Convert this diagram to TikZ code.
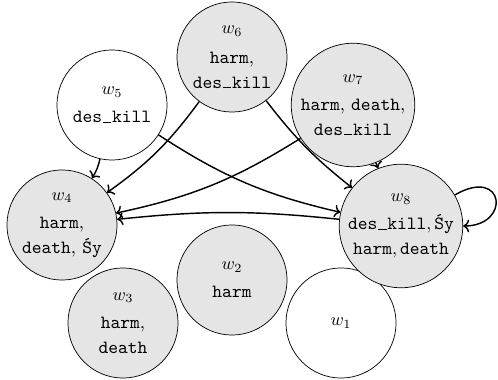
\documentclass[tikz,border=0pt]{standalone}
\usetikzlibrary{arrows.meta}
\newcommand\usc{\makebox[0.525em]{\rule{0.46em}{0.45pt}}}
\newcommand\dk{\texttt{des\usc kill}}
\begin{document}
\begin{tikzpicture}[x=0.5587pt,y=0.5587pt,
  world/.style={circle,draw,inner sep=0pt,minimum size=61.5pt,align=center,
    font=\fontsize{10.4}{13.8}\selectfont},
  shaded/.style={world,fill=gray!20},
  big/.style={minimum size=69pt},
  edgeline/.style={->,thick}]
\useasboundingbox (0,0) rectangle (498,380);
\node[world] (w1) at (341,57) {$w_1$};
\node[shaded] (w2) at (232,100) {$w_2$\\[2pt]\texttt{harm}};
\node[shaded] (w3) at (123,57) {$w_3$\\[2pt]\texttt{harm},\\\texttt{death}};
\node[shaded] (w4) at (62,155) {$w_4$\\[2pt]\texttt{harm},\\\texttt{death}, \texttt{Śy}};
\node[world] (w5) at (112,275) {$w_5$\\[2pt]\dk};
\node[shaded] (w6) at (232,323) {$w_6$\\[3pt]\texttt{harm},\\\dk};
\node[shaded,big] (w7) at (353,275) {$w_7$\\[2pt]\texttt{harm}, \texttt{death},\\\dk};
\node[shaded,big] (w8) at (401,154) {$w_8$\\[2pt]$\dk,\texttt{Śy}$\\$\texttt{harm},\texttt{death}$};
\draw[edgeline] (w5) to[bend left=10] (w4);
\draw[edgeline] (w6) to[bend left=9] (w4);
\draw[edgeline] (w5) to[bend right=10] (w8);
\draw[edgeline] (w6) to[bend right=7] (w8);
\draw[edgeline] (w7) to[bend left=10] (w4);
\draw[edgeline] (w7) to (w8);
\draw[edgeline] (w8) to[bend right=6] (w4);
\draw[edgeline] (w8.30) .. controls +(30:58) and +(0:48) .. (w8.0);
\end{tikzpicture}
\end{document}
